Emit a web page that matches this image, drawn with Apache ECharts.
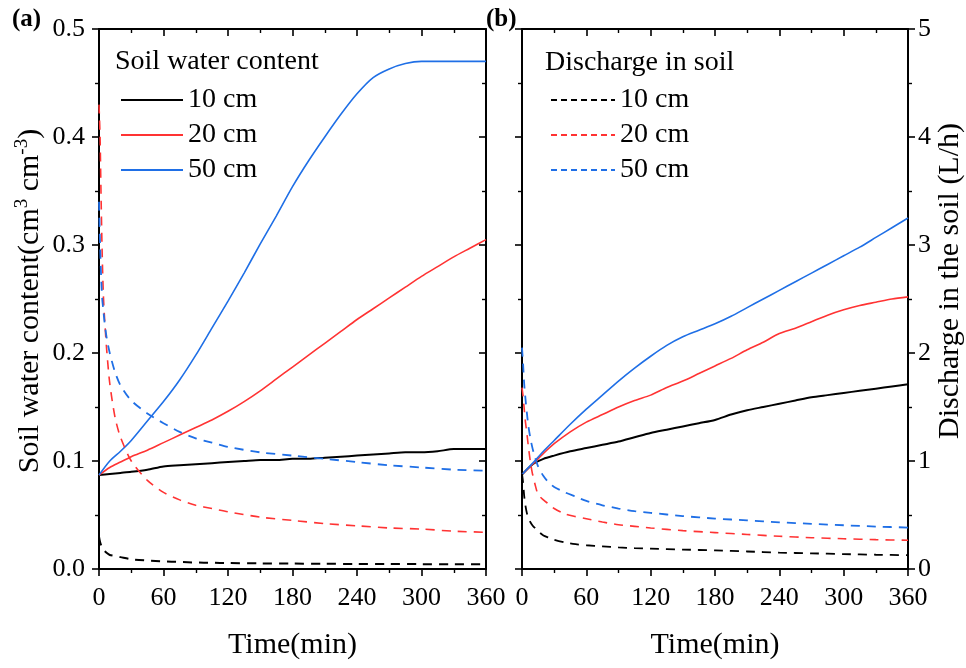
<!DOCTYPE html>
<html><head><meta charset="utf-8">
<script src="https://cdn.jsdelivr.net/npm/echarts@6/dist/echarts.min.js"></script>
<style>html,body{margin:0;padding:0;background:#fff}#c{width:966px;height:668px}</style>
</head><body><div id="c"></div>
<script>
// ---- data ----
const xTicks = [0, 60, 120, 180, 240, 300, 360];
const tSolid = [0,10,20,30,45,60,75,90,105,120,135,150,165,180,195,210,225,240,255,270,285,300,315,330,345,360];
// panel (a): soil water content (solid)
const swc10 = [0.087,0.088,0.089,0.090,0.092,0.095,0.096,0.097,0.098,0.099,0.100,0.101,0.101,0.102,0.102,0.103,0.104,0.105,0.106,0.107,0.108,0.108,0.109,0.111,0.111,0.111];
const swc20 = [0.087,0.094,0.099,0.104,0.110,0.117,0.124,0.131,0.138,0.146,0.155,0.165,0.176,0.187,0.198,0.209,0.220,0.231,0.241,0.251,0.261,0.271,0.280,0.289,0.297,0.305];
const swc50 = [0.087,0.100,0.109,0.119,0.137,0.155,0.175,0.198,0.223,0.248,0.274,0.301,0.327,0.354,0.378,0.400,0.421,0.440,0.455,0.463,0.468,0.470,0.470,0.470,0.470,0.470];
// panel (a): dashed curves
const tDashA = [0,1,2,3,4,5,7,10,15,20,30,45,60,75,90,105,120,150,180,210,240,270,300,330,360];
const dashA10 = [0.030,0.025,0.022,0.020,0.018,0.017,0.015,0.013,0.012,0.011,0.009,0.0078,0.007,0.0065,0.006,0.0058,0.0055,0.0052,0.005,0.0048,0.0047,0.0046,0.0045,0.0044,0.0043];
const dashA20 = [0.430,0.400,0.340,0.290,0.255,0.235,0.205,0.172,0.140,0.122,0.100,0.082,0.071,0.064,0.059,0.056,0.053,0.048,0.045,0.042,0.040,0.038,0.037,0.035,0.034];
const dashA50 = [0.340,0.300,0.270,0.250,0.240,0.230,0.215,0.200,0.182,0.170,0.156,0.144,0.135,0.127,0.121,0.117,0.113,0.108,0.105,0.102,0.099,0.096,0.094,0.092,0.091];
// panel (b): solid curves
const solB10 = [0.875,0.97,1.02,1.05,1.09,1.12,1.15,1.18,1.22,1.26,1.29,1.32,1.35,1.38,1.43,1.47,1.50,1.53,1.56,1.59,1.61,1.63,1.65,1.67,1.69,1.71];
const solB20 = [0.875,0.97,1.07,1.16,1.27,1.36,1.43,1.50,1.56,1.61,1.68,1.74,1.81,1.88,1.95,2.03,2.10,2.18,2.23,2.29,2.35,2.40,2.44,2.47,2.50,2.52];
const solB50 = [0.875,0.98,1.09,1.19,1.34,1.48,1.61,1.74,1.86,1.97,2.07,2.15,2.21,2.27,2.34,2.42,2.50,2.58,2.66,2.74,2.82,2.90,2.98,3.07,3.16,3.25];
// panel (b): discharge in soil (dashed)
const tDashB = [0,1,2,3,4.5,6,8,10,12,15,20,25,30,40,50,60,75,90,105,120,150,180,210,240,270,300,330,360];
const disB10 = [0.88,0.80,0.68,0.60,0.52,0.47,0.43,0.40,0.38,0.35,0.31,0.29,0.27,0.245,0.23,0.22,0.21,0.20,0.193,0.188,0.18,0.172,0.162,0.152,0.145,0.138,0.132,0.128];
const disB20 = [1.68,1.60,1.49,1.38,1.26,1.13,0.98,0.87,0.79,0.69,0.64,0.60,0.56,0.51,0.485,0.465,0.435,0.41,0.395,0.38,0.355,0.337,0.32,0.303,0.29,0.28,0.272,0.266];
const disB50 = [2.05,1.90,1.72,1.60,1.45,1.32,1.20,1.11,1.04,0.95,0.86,0.80,0.76,0.71,0.67,0.63,0.59,0.56,0.535,0.52,0.49,0.467,0.45,0.432,0.418,0.405,0.393,0.384];
const depthLabels = ['10 cm', '20 cm', '50 cm'];

// ---- chart ----
const F = 'Liberation Serif';
const BLACK = '#000000', RED = '#ff3333', BLUE = '#1f6fe6';
const pair = (t, v) => t.map((x, i) => [x, v[i]]);
const names = {a10:depthLabels[0], a20:depthLabels[1], a50:depthLabels[2], b10:depthLabels[0], b20:depthLabels[1], b50:depthLabels[2]};

function xAx(gridIndex, position) {
  const bottom = position === 'bottom';
  return {
    type: 'value', gridIndex, position, min: xTicks[0], max: xTicks[xTicks.length-1], interval: 60,
    axisLine: {show: true, onZero: false, lineStyle: {color: '#000', width: 2}},
    axisTick: {show: true, inside: !bottom, length: 7, lineStyle: {color: '#000', width: 1.6}},
    minorTick: {show: true, splitNumber: 2, length: 4, lineStyle: {color: '#000', width: 1.4}},
    axisLabel: {show: bottom, color: '#000', fontFamily: F, fontSize: 26, margin: 16, showMinLabel: true, showMaxLabel: true},
    splitLine: {show: false}, minorSplitLine: {show: false},
    name: bottom ? 'Time(min)' : '', nameLocation: 'middle', nameGap: 61,
    nameTextStyle: {fontFamily: F, fontSize: 30, color: '#000'}
  };
}
function yAx(gridIndex, position, max, interval, showLabel, inside, fmt) {
  return {
    type: 'value', gridIndex, position, min: 0, max, interval,
    axisLine: {show: true, onZero: false, lineStyle: {color: '#000', width: 2}},
    axisTick: {show: true, inside, length: 7, lineStyle: {color: '#000', width: 1.6}},
    minorTick: {show: true, splitNumber: 2, length: 4, lineStyle: {color: '#000', width: 1.4}},
    axisLabel: {show: showLabel, color: '#000', fontFamily: F, fontSize: 26, margin: position === 'left' ? 14 : 10, formatter: fmt},
    splitLine: {show: false}, minorSplitLine: {show: false}
  };
}
function line(name, xi, yi, t, v, color, width, dashed) {
  return {
    name, type: 'line', xAxisIndex: xi, yAxisIndex: yi, data: pair(t, v),
    symbol: 'none', showSymbol: false, smooth: 0.25, animation: false,
    lineStyle: {color, width, type: dashed ? [9, 7] : 'solid'},
    itemStyle: {color}
  };
}

const chart = echarts.init(document.getElementById('c'), null, {renderer: 'canvas'});
chart.setOption({
  animation: false,
  backgroundColor: '#fff',
  grid: [
    {left: 99, top: 29, width: 387, height: 540},
    {left: 522, top: 29, width: 386, height: 540}
  ],
  xAxis: [xAx(0, 'bottom'), xAx(0, 'top'), xAx(1, 'bottom'), xAx(1, 'top')],
  yAxis: [
    yAx(0, 'left', 0.5, 0.1, true, false, v => v.toFixed(1)),
    yAx(0, 'right', 0.5, 0.1, false, true),
    yAx(1, 'left', 5, 1, false, false),
    yAx(1, 'right', 5, 1, true, false, v => String(v))
  ],
  legend: [
    {data: ['a10', 'a20', 'a50'], left: 115, top: 81, orient: 'vertical', itemWidth: 62, itemHeight: 14, itemGap: 7,
     formatter: n => names[n], itemStyle: {opacity: 0},
     textStyle: {fontFamily: F, fontSize: 28, color: '#000', lineHeight: 28}, selectedMode: false},
    {data: ['b10', 'b20', 'b50'], left: 545, top: 81, orient: 'vertical', itemWidth: 64, itemHeight: 14, itemGap: 7,
     formatter: n => names[n], lineStyle: {type: [6, 4]}, itemStyle: {opacity: 0},
     textStyle: {fontFamily: F, fontSize: 28, color: '#000', lineHeight: 28}, selectedMode: false}
  ],
  graphic: [
    {type: 'text', left: 12, top: 7, style: {text: '(a)', fontFamily: F, fontWeight: 'bold', fontSize: 25, fill: '#000'}},
    {type: 'text', left: 486, top: 7, style: {text: '(b)', fontFamily: F, fontWeight: 'bold', fontSize: 25, fill: '#000'}},
    {type: 'text', x: 115, y: 62, style: {text: 'Soil water content', fontFamily: F, fontSize: 28, fill: '#000', align: 'left', verticalAlign: 'middle'}},
    {type: 'text', x: 545, y: 63, style: {text: 'Discharge in soil', fontFamily: F, fontSize: 28, fill: '#000', align: 'left', verticalAlign: 'middle'}},
    {type: 'text', x: 30, y: 301, rotation: Math.PI / 2,
     style: {text: '{n|Soil water content(cm}{s|3}{n| cm}{s|-3}{n|)}', align: 'center', verticalAlign: 'middle',
       rich: {n: {fontFamily: F, fontSize: 30, fill: '#000', lineHeight: 34}, s: {fontFamily: F, fontSize: 19, fill: '#000', verticalAlign: 'top', lineHeight: 34}}}},
    {type: 'text', x: 950, y: 281, rotation: Math.PI / 2,
     style: {text: 'Discharge in the soil (L/h)', fontFamily: F, fontSize: 30, fill: '#000', align: 'center', verticalAlign: 'middle'}}
  ],
  series: [
    line('a10', 0, 0, tSolid, swc10, BLACK, 2),
    line('a20', 0, 0, tSolid, swc20, RED, 1.6),
    line('a50', 0, 0, tSolid, swc50, BLUE, 1.6),
    line('da10', 0, 0, tDashA, dashA10, BLACK, 2, true),
    line('da20', 0, 0, tDashA, dashA20, RED, 1.6, true),
    line('da50', 0, 0, tDashA, dashA50, BLUE, 1.8, true),
    line('sb10', 2, 3, tSolid, solB10, BLACK, 2),
    line('sb20', 2, 3, tSolid, solB20, RED, 1.6),
    line('sb50', 2, 3, tSolid, solB50, BLUE, 1.6),
    line('b10', 2, 3, tDashB, disB10, BLACK, 1.8, true),
    line('b20', 2, 3, tDashB, disB20, RED, 1.6, true),
    line('b50', 2, 3, tDashB, disB50, BLUE, 1.8, true)
  ]
});
</script>
</body></html>
